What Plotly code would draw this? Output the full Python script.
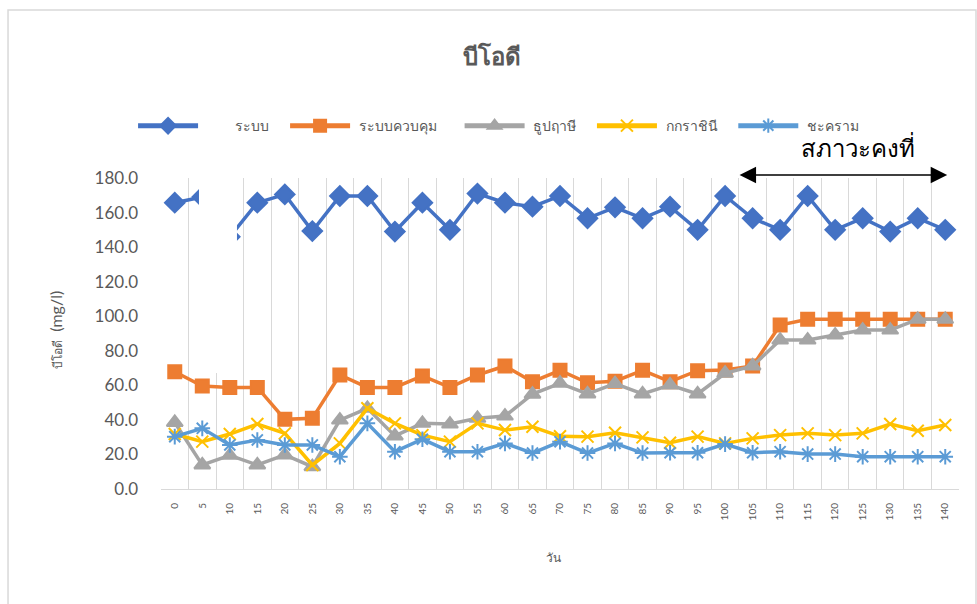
import plotly.graph_objects as go

# ข้อมูลค่าบีโอดี (mg/l) อ่านจากกราฟ
WAN = [str(v) for v in range(0, 145, 5)]

RABOB = [165.7, 169, 146, 165.7, 170.5, 149.3, 169.6, 169.6, 149, 165.7,
         150, 171, 165.7, 163.4, 169.6, 156.7, 163, 156.7, 163.4, 150,
         169.6, 156.7, 150, 169.6, 150, 156.7, 149, 156.7, 150]
KUAP_KUM = [67.9, 59.6, 58.8, 58.8, 40.3, 40.9, 66, 58.8, 58.8, 65.4,
            58.8, 66, 71.2, 62.1, 68.7, 61.5, 62.4, 68.7, 62.1, 68.5,
            68.9, 71.2, 94.9, 98.2, 98.2, 98.2, 98.2, 98.2, 98.2]
THUP_RUESI = [38.5, 13.9, 19.5, 13.9, 19.7, 12.9, 39.9, 46.7, 30.7, 38,
              37.6, 40.9, 42.2, 54.9, 61.2, 55, 61, 55, 60.2, 55,
              67, 71.2, 86.2, 86.2, 89.1, 92, 92, 98.2, 98.2]
KOK_RACHINI = [31.8, 27.4, 31.8, 37.6, 32.2, 13.9, 26.4, 46.7, 38, 31.2,
               27.4, 38, 34.1, 36, 30.5, 30.3, 32.6, 29.9, 26.8, 30.3,
               26.4, 29.3, 31.2, 32.2, 31.2, 32.2, 37.6, 33.7, 37]
CHAKRAM = [30.3, 35.1, 25.5, 28.4, 25.5, 25.5, 18.7, 38, 21.6, 28.8,
           21.6, 21.6, 26.4, 20.8, 27.4, 20.8, 26.4, 20.8, 21, 21,
           26, 21, 21.6, 20.2, 20.2, 18.7, 18.7, 18.7, 18.7]

GRAY_TEXT = "#595959"
GRID = "#D9D9D9"
FONT = "Lato, 'Noto Sans', 'DejaVu Sans', sans-serif"
NB = "\u00a0"

# (ชื่อ, ค่า, สี, สัญลักษณ์, ขนาด, ช่องว่างท้ายชื่อในคำอธิบาย)
SERIES = [
    (NB * 8 + "ระบบ", RABOB, "#4472C4", "diamond", 15, 3),
    ("ระบบควบคุม", KUAP_KUM, "#ED7D31", "square", 13, 5),
    ("ธูปฤาษี", THUP_RUESI, "#A5A5A5", "triangle-up", 14, 3),
    ("กกราชินี", KOK_RACHINI, "#FFC000", "x-thin-open", 12, 3),
    ("ชะคราม", CHAKRAM, "#5B9BD5", "asterisk-open", 13, 3),
]

fig = go.Figure()
for name, vals, color, symbol, size, pad in SERIES:
    fig.add_trace(go.Scatter(
        x=WAN, y=vals, name=NB + name + NB * pad, mode="lines+markers",
        line={"color": color, "width": 3.5},
        marker={"symbol": symbol, "size": size, "color": color,
                "line": {"color": color, "width": 2}},
        cliponaxis=False,
    ))

fig.update_layout(
    width=977, height=604,
    margin=dict(l=161, r=18, t=178, b=115, autoexpand=False),
    paper_bgcolor="white", plot_bgcolor="white",
    font={"family": FONT, "color": GRAY_TEXT},
    title={"text": "<b>บีโอดี</b>", "x": 492 / 977, "xanchor": "center",
           "y": 1 - 57 / 604, "yanchor": "middle",
           "font": {"size": 24, "color": GRAY_TEXT}},
    legend={"orientation": "h", "x": -0.035, "xanchor": "left",
            "y": 1.167, "yanchor": "middle", "itemwidth": 60,
            "font": {"size": 14, "color": GRAY_TEXT},
            "itemsizing": "constant", "itemclick": False},
    showlegend=True,
)
fig.update_xaxes(
    type="category", range=[-0.5, len(WAN) - 0.5], tickson="boundaries",
    showgrid=True, gridcolor=GRID, gridwidth=1, showline=True,
    linecolor=GRID, linewidth=1, ticks="", tickangle=-90,
    tickfont={"size": 10, "color": GRAY_TEXT}, ticklabelstandoff=9,
    zeroline=False,
)
fig.update_yaxes(
    range=[0, 180], dtick=20, tickformat=".1f", showgrid=False,
    zeroline=False, showline=False, ticks="",
    tickfont={"size": 17, "color": GRAY_TEXT}, ticklabelstandoff=22,
)

# กล่องขาวบังส่วนหนึ่งของเส้น (ตามภาพต้นฉบับ)
fig.add_shape(type="rect", xref="paper", yref="paper", layer="above",
              x0=0.0476, x1=0.0952, y0=0.373, y1=1.12,
              fillcolor="white", line={"width": 0})
# กรอบของแผนภูมิ
fig.add_shape(type="rect", xref="paper", yref="paper",
              x0=-0.1917, x1=1.0213, y0=-0.40, y1=1.540,
              fillcolor="rgba(0,0,0,0)", line={"color": GRID, "width": 1.5})

# ลูกศรช่วงสภาวะคงที่
fig.add_annotation(x=28.07, y=(489 - 175) / 311, ax=20.47, ay=0,
                   xref="x", yref="paper", axref="x", ayref="pixel",
                   text="", showarrow=True,
                   arrowside="end+start", arrowhead=2, startarrowhead=2,
                   arrowsize=2.2, startarrowsize=2.2, arrowwidth=1.5,
                   arrowcolor="black", standoff=0, startstandoff=0)
fig.add_annotation(x=(858 - 161) / 798, y=(489 - 147) / 311, xref="paper",
                   yref="paper", xanchor="center", yanchor="middle",
                   text="สภาวะคงที่", showarrow=False,
                   font={"size": 24, "color": "black"})
fig.add_annotation(x=(55 - 161) / 798, y=(489 - 330) / 311, xref="paper",
                   yref="paper", xanchor="center", yanchor="middle",
                   textangle=-90, showarrow=False,
                   text="<span style='font-size:12px'>บีโอดี</span>  (mg/l)",
                   font={"size": 16, "color": GRAY_TEXT})
fig.add_annotation(x=(553 - 161) / 798, y=(489 - 557) / 311, xref="paper",
                   yref="paper", xanchor="center", yanchor="middle",
                   text="วัน", showarrow=False,
                   font={"size": 12, "color": GRAY_TEXT})

fig.write_html("out.html", config={"displayModeBar": False},
               post_script="document.body.style.margin='0';")
